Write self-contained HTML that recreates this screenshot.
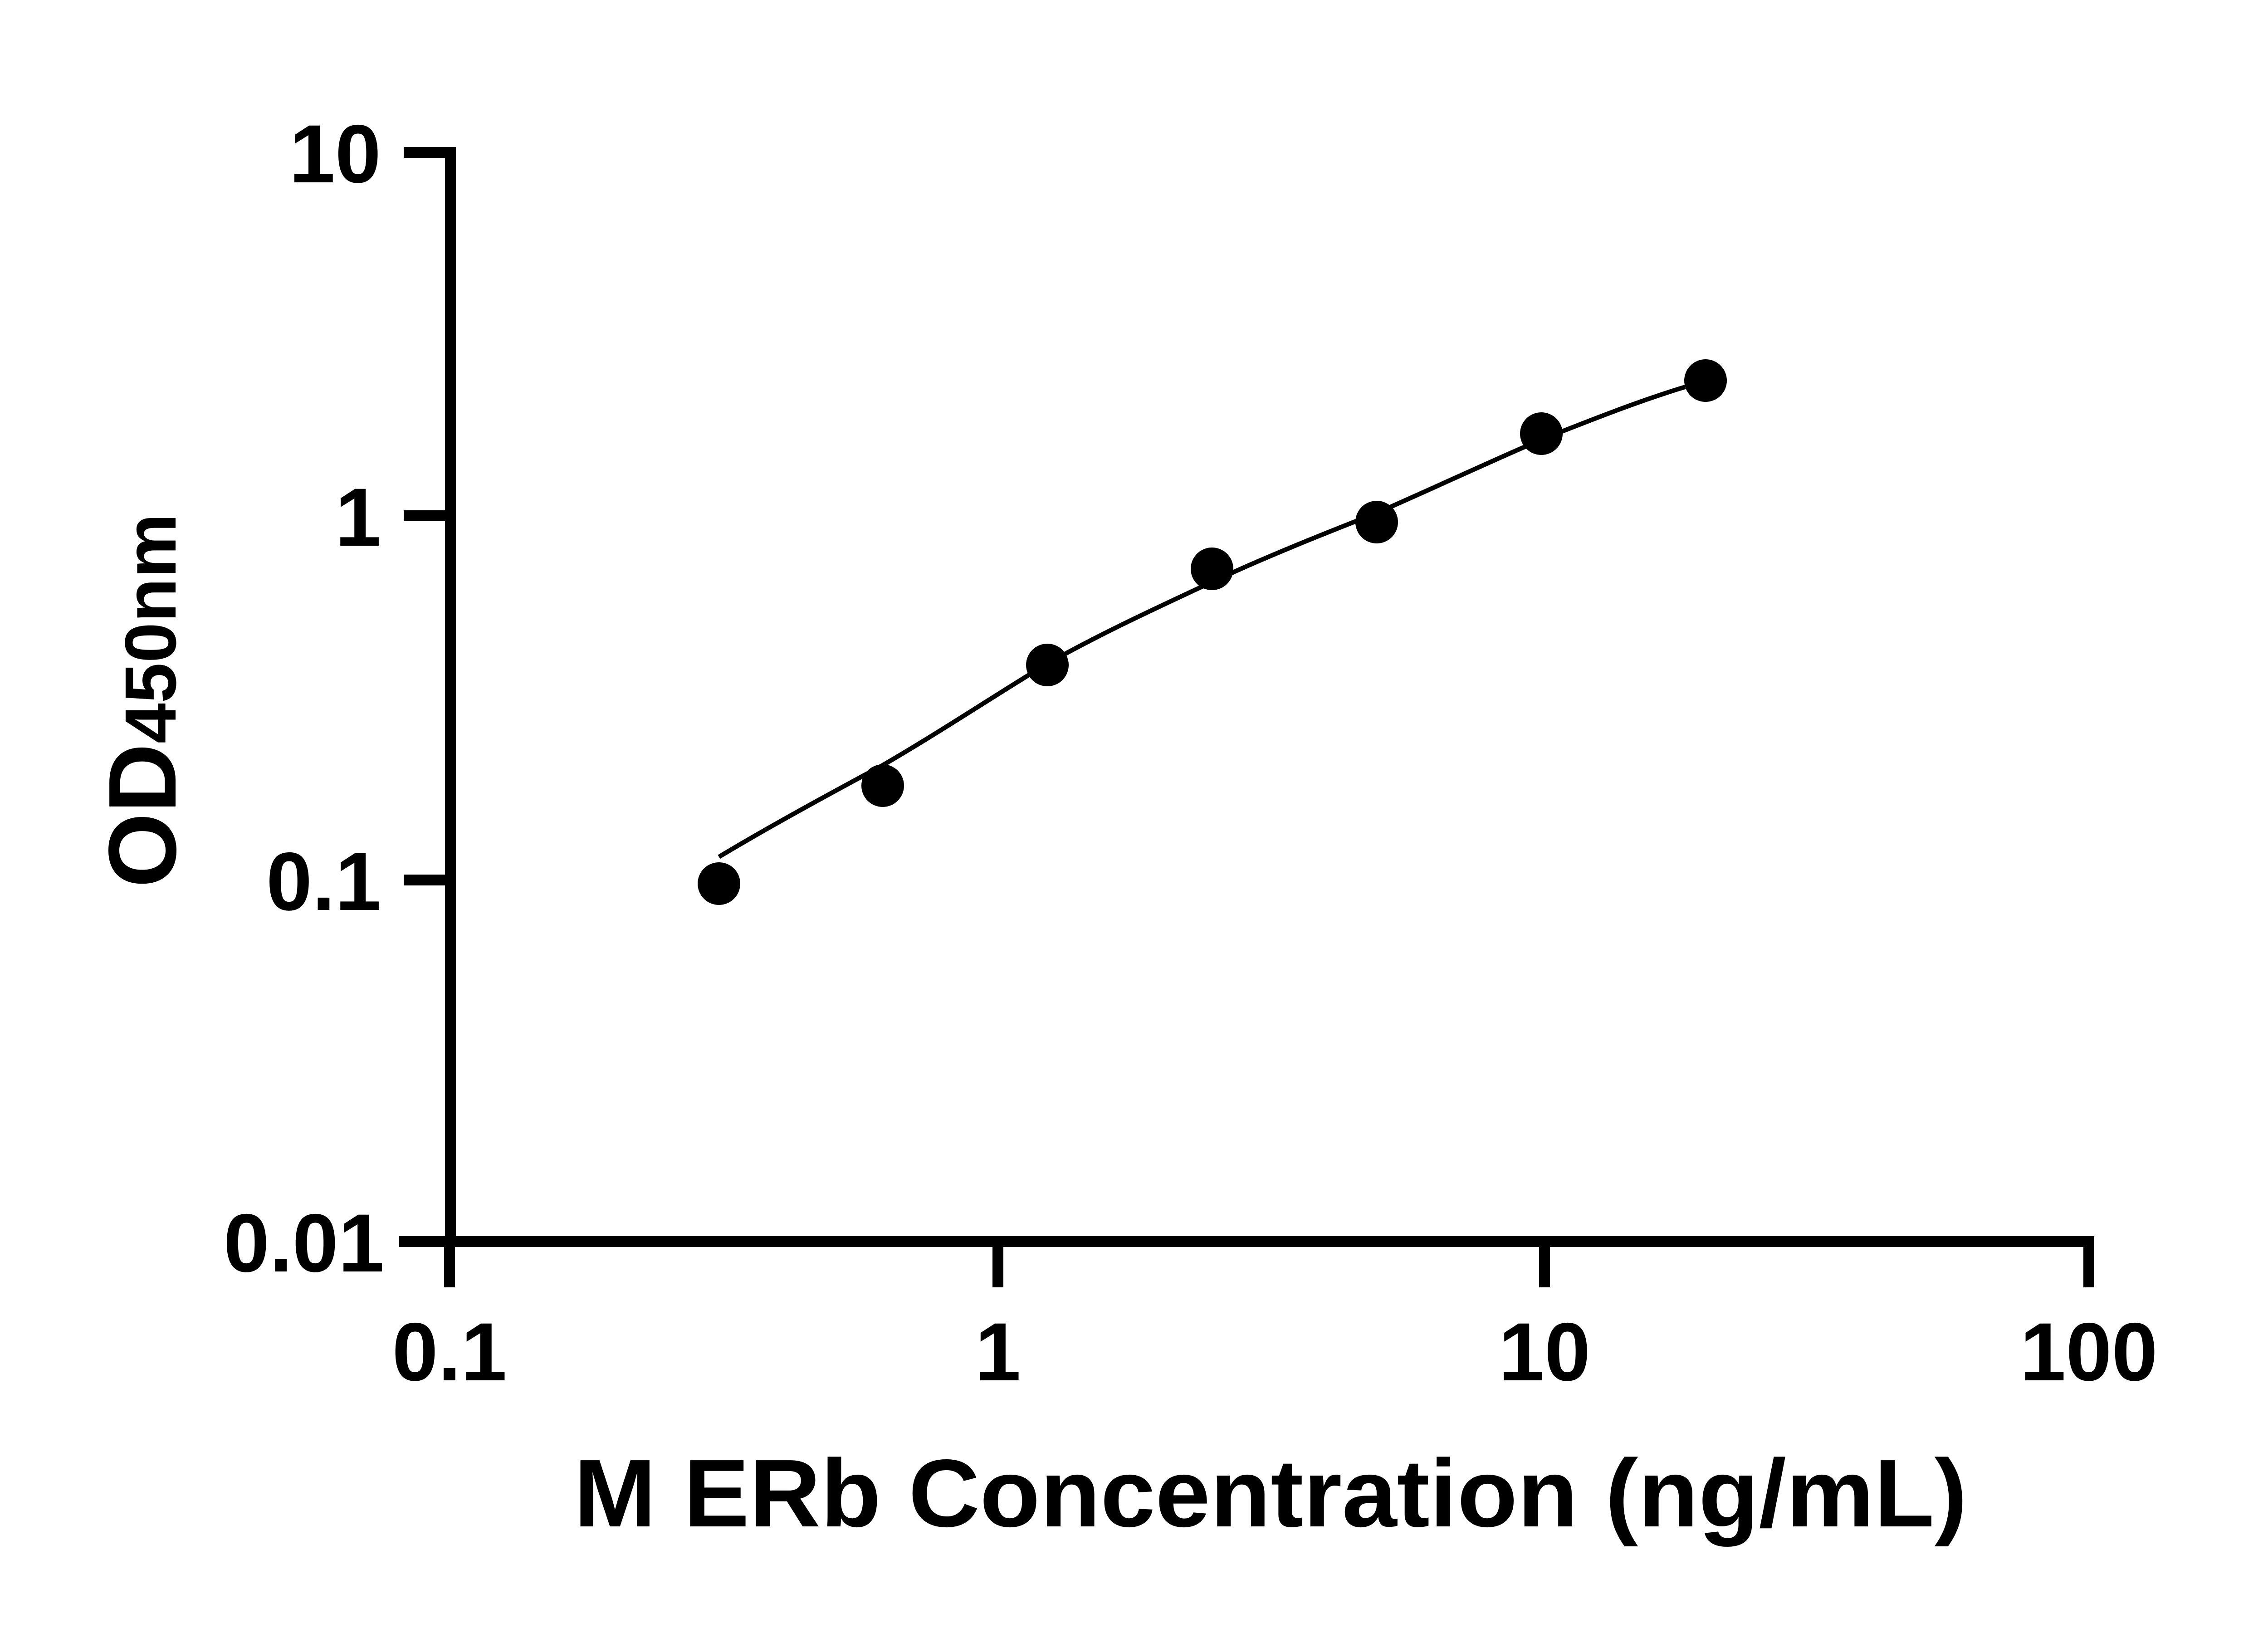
<!DOCTYPE html>
<html><head><meta charset="utf-8"><style>html,body{margin:0;padding:0;background:#fff}svg{display:block}</style></head>
<body>
<svg width="5142" height="3600" viewBox="0 0 5142 3600" xmlns="http://www.w3.org/2000/svg">
<rect width="5142" height="3600" fill="#fff"/>
<g stroke="#000" stroke-width="24" fill="none">
<line x1="993" y1="324" x2="993" y2="2749"/>
<line x1="880" y1="2737" x2="4617" y2="2737"/>
<line x1="890" y1="336" x2="993" y2="336"/>
<line x1="890" y1="1137" x2="993" y2="1137"/>
<line x1="890" y1="1940" x2="993" y2="1940"/>
<line x1="991" y1="2737" x2="991" y2="2838"/>
<line x1="2200" y1="2737" x2="2200" y2="2838"/>
<line x1="3405" y1="2737" x2="3405" y2="2838"/>
<line x1="4605" y1="2737" x2="4605" y2="2838"/>
</g>
<g font-family="Liberation Sans, sans-serif" font-weight="bold" font-size="182" fill="#000">
<text x="840" y="402" text-anchor="end">10</text>
<text x="840" y="1203" text-anchor="end">1</text>
<text x="840" y="2006" text-anchor="end">0.1</text>
<text x="847" y="2803" text-anchor="end">0.01</text>
<text x="991" y="3043" text-anchor="middle">0.1</text>
<text x="2200" y="3043" text-anchor="middle">1</text>
<text x="3405" y="3043" text-anchor="middle">10</text>
<text x="4605" y="3043" text-anchor="middle">100</text>
</g>
<text x="1265" y="3365" font-family="Liberation Sans, sans-serif" font-weight="bold" font-size="212" textLength="3072" lengthAdjust="spacingAndGlyphs">M ERb Concentration (ng/mL)</text>
<text transform="translate(387,1957) rotate(-90)" font-family="Liberation Sans, sans-serif" font-weight="bold" fill="#000"><tspan font-size="212">OD</tspan><tspan font-size="160">450nm</tspan></text>
<path d="M1585,1889 C1700,1820 1820,1755 1946,1687 C2070,1615 2190,1535 2309,1463 C2430,1395 2550,1340 2672,1283 C2790,1228 2910,1180 3035,1131 C3160,1076 3280,1020 3398,969 C3510,925 3610,885 3715,853" stroke="#000" stroke-width="10" fill="none"/>
<g fill="#000">
<circle cx="1585" cy="1948" r="47"/>
<circle cx="1946" cy="1732" r="47"/>
<circle cx="2309" cy="1466" r="47"/>
<circle cx="2672" cy="1254" r="47"/>
<circle cx="3035" cy="1151" r="47"/>
<circle cx="3398" cy="956" r="47"/>
<circle cx="3760" cy="839" r="47"/>
</g>
</svg>
</body></html>
